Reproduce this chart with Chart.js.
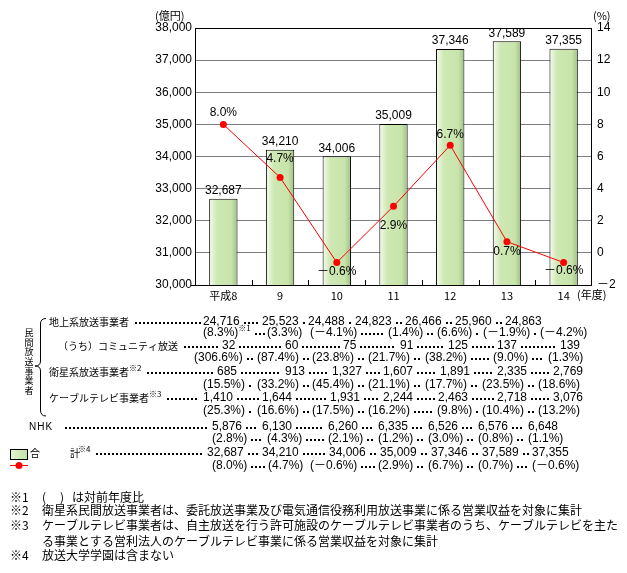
<!DOCTYPE html>
<html><head><meta charset="utf-8">
<script src="https://cdn.jsdelivr.net/npm/chart.js@4"></script>
<style>html,body{margin:0;padding:0;background:#fff;}#wrap{position:relative;width:627px;height:573px;}</style>
</head><body><div id="wrap"><canvas id="c" width="627" height="573"></canvas></div>
<script>
// ---- data ----
const years = ['平成8','9','10','11','12','13','14'];
const totalRevenue = [32687,34210,34006,35009,37346,37589,37355];
const growthRate = [8.0,4.7,-0.6,2.9,6.7,0.7,-0.6];
const terrestrial = [24716,25523,24488,24823,26466,25960,24863];
const terrestrialRate = [8.3,3.3,-4.1,1.4,6.6,-1.9,-4.2];
const community = [32,60,75,91,125,137,139];
const communityRate = [306.6,87.4,23.8,21.7,38.2,9.0,1.3];
const satellite = [685,913,1327,1607,1891,2335,2769];
const satelliteRate = [15.5,33.2,45.4,21.1,17.7,23.5,18.6];
const cable = [1410,1644,1931,2244,2463,2718,3076];
const cableRate = [25.3,16.6,17.5,16.2,9.8,10.4,13.2];
const nhk = [5876,6130,6260,6335,6526,6576,6648];
const nhkRate = [2.8,4.3,2.1,1.2,3.0,0.8,1.1];
const leftTicks = {min:30000, max:38000, step:1000};
const rightTicks = {min:-2, max:14, step:2};

const tableRows = [
  {label:'地上系放送事業者', note:'', vals:terrestrial, rates:terrestrialRate},
  {label:'（うち）コミュニティ放送', note:'', vals:community, rates:communityRate},
  {label:'衛星系放送事業者', note:'※2', vals:satellite, rates:satelliteRate},
  {label:'ケーブルテレビ事業者', note:'※3', vals:cable, rates:cableRate},
  {label:'NHK', note:'', vals:nhk, rates:nhkRate},
  {label:'合', note:'', vals:totalRevenue, rates:growthRate}
];
const footnotes = [
  ['※1', null],
  ['※2', '衛星系民間放送事業者は、委託放送事業及び電気通信役務利用放送事業に係る営業収益を対象に集計'],
  ['※3', 'ケーブルテレビ事業者は、自主放送を行う許可施設のケーブルテレビ事業者のうち、ケーブルテレビを主た'],
  ['', 'る事業とする営利法人のケーブルテレビ事業に係る営業収益を対象に集計'],
  ['※4', '放送大学学園は含まない']
];

// ---- layout (positions only) ----
const W = 627, H = 573;
const plotL = 195, plotR = 592, plotT = 28, plotB = 285;
const valueX = [[203,262,308,355,405,455,505],[222,285,343,400,448,497,560],[217,285,332,383,440,497,553],[203,262,330,383,438,497,553],[212,262,328,378,428,478,528],[207,262,329,380,431,482,532]];
const rateX  = [[203,267,310,388,437,483,540],[194,257,312,368,425,493,548],[203,257,312,368,425,482,538],[203,257,312,368,437,482,538],[212,267,328,378,428,478,528],[212,268,310,378,428,478,532]];
const valueY = [322,346,372,398,427,453];
const rateY  = [333,358,385,411,439,466];
const labelX = [49,58,49,49,29,30];
const footY = [497,510,525,541,555];
const pctLabelDy = [-12,-19,9,19,-11,10,8];

const LAT = '"Liberation Sans", "Noto Sans CJK JP", sans-serif';
const CJK = '"Noto Sans CJK JP", "Liberation Sans", sans-serif';

const fmtN = v => v.toLocaleString('en-US');
const fmtP = v => (v < 0 ? '－' : '') + Math.abs(v).toFixed(1) + '%';

function barFill(c) {
  const chart = c.chart, xs = chart.scales.x;
  if (!xs || !chart.chartArea) return '#cce8b0';
  const x = xs.getPixelForValue(c.dataIndex);
  const w = xs.width / years.length * 0.5;
  const g = chart.ctx.createLinearGradient(x - w/2, 0, x + w/2, 0);
  g.addColorStop(0, '#f6fbf0');
  g.addColorStop(0.28, '#cde8b2');
  g.addColorStop(0.78, '#c8e4ab');
  g.addColorStop(1, '#9fbf86');
  return g;
}

const decor = {
  id: 'decor',
  afterDatasetsDraw(chart) {
    const ctx = chart.ctx, a = chart.chartArea, xs = chart.scales.x;
    ctx.save();
    ctx.strokeStyle = '#000'; ctx.lineWidth = 1;
    ctx.strokeRect(a.left + 0.5, a.top + 0.5, a.right - a.left - 1, a.bottom - a.top);
    ctx.beginPath();
    for (let i = 1; i < years.length; i++) {
      const x = Math.round((xs.getPixelForValue(i - 1) + xs.getPixelForValue(i)) / 2) + 0.5;
      ctx.moveTo(x, a.bottom); ctx.lineTo(x, a.bottom - 5);
    }
    ctx.moveTo(a.left - 4, a.bottom + 0.5); ctx.lineTo(a.left, a.bottom + 0.5);
    ctx.stroke();
    ctx.fillStyle = '#000';
    ctx.font = '12px ' + LAT;
    ctx.textAlign = 'center'; ctx.textBaseline = 'bottom';
    chart.getDatasetMeta(1).data.forEach((el, i) => ctx.fillText(fmtN(totalRevenue[i]), el.x, el.y - 2));
    ctx.textBaseline = 'middle';
    chart.getDatasetMeta(0).data.forEach((el, i) => ctx.fillText(fmtP(growthRate[i]), el.x, el.y + pctLabelDy[i]));
    ctx.restore();
  },
  afterDraw(chart) {
    const ctx = chart.ctx;
    ctx.save();
    ctx.fillStyle = '#000'; ctx.strokeStyle = '#000';
    ctx.textBaseline = 'middle'; ctx.textAlign = 'left';
    ctx.font = '11px ' + CJK;
    ctx.fillText('(億円)', 155, 16);
    ctx.fillText('(%)', 593, 16);
    ctx.fillText('(年度)', 577, 295);

    const dots = (x0, x1, y) => { for (let x = x0; x <= x1 - 2; x += 4) ctx.fillRect(Math.round(x), y, 2, 2); };
    ctx.font = '9px ' + CJK; ctx.textAlign = 'center';
    const vt = '民間放送事業者';
    for (let i = 0; i < vt.length; i++) ctx.fillText(vt[i], 29, 332.5 + i * 9.7);
    ctx.lineWidth = 1;
    ctx.beginPath();
    ctx.moveTo(46, 318.5); ctx.quadraticCurveTo(40.5, 318.5, 40.5, 324);
    ctx.lineTo(40.5, 361); ctx.quadraticCurveTo(40.5, 366, 35, 366);
    ctx.quadraticCurveTo(40.5, 366, 40.5, 371);
    ctx.lineTo(40.5, 410); ctx.quadraticCurveTo(40.5, 416, 46, 416);
    ctx.stroke();

    ctx.textAlign = 'left';
    tableRows.forEach((r, ri) => {
      const y = valueY[ri], yr = rateY[ri];
      ctx.font = '10px ' + CJK;
      let end;
      if (ri === 5) {
        ctx.fillText('合', labelX[ri], y);
        ctx.fillText('計', 70, y);
        ctx.font = '8px ' + CJK;
        ctx.fillText('※4', 78, y - 4);
        end = 78 + ctx.measureText('※4').width;
      } else if (ri === 4) {
        ctx.font = '10px ' + LAT;
        ctx.letterSpacing = '1px';
        ctx.fillText(r.label, labelX[ri], y);
        end = labelX[ri] + ctx.measureText(r.label).width + 6;
        ctx.letterSpacing = '0px';
      } else {
        ctx.fillText(r.label, labelX[ri], y);
        end = labelX[ri] + ctx.measureText(r.label).width;
        if (r.note) {
          ctx.font = '8px ' + CJK;
          ctx.fillText(r.note, end, y - 4);
          end += ctx.measureText(r.note).width;
        }
      }
      end += 4;
      ctx.font = '12px ' + LAT;
      r.vals.forEach((v, i) => {
        const s = fmtN(v), x = valueX[ri][i];
        if (x - end > 5) dots(end + 2, x - 2, y);
        ctx.fillText(s, x, y);
        end = x + ctx.measureText(s).width + 2;
      });
      end = null;
      r.rates.forEach((v, i) => {
        const s = '(' + fmtP(v) + ')', x = rateX[ri][i];
        ctx.font = '12px ' + LAT;
        if (end !== null && x - end > 5) dots(end + 2, x - 2, yr);
        ctx.fillText(s, x, yr);
        end = x + ctx.measureText(s).width + 2;
        if (ri === 0 && i === 0) {
          ctx.font = '8px ' + CJK;
          ctx.fillText('※1', end - 2, yr - 5);
          end += ctx.measureText('※1').width;
        }
      });
    });

    const g = ctx.createLinearGradient(10, 0, 27, 0);
    g.addColorStop(0, '#e4f3d6'); g.addColorStop(1, '#c4e2a6');
    ctx.fillStyle = g; ctx.fillRect(10, 449, 17, 10);
    ctx.strokeStyle = '#000'; ctx.strokeRect(10.5, 449.5, 17, 10);
    ctx.strokeStyle = '#ff0000'; ctx.beginPath(); ctx.moveTo(10, 465.5); ctx.lineTo(28, 465.5); ctx.stroke();
    ctx.fillStyle = '#ff0000'; ctx.beginPath(); ctx.arc(19, 465.5, 3.5, 0, Math.PI * 2); ctx.fill();

    ctx.fillStyle = '#000';
    ctx.font = '12px ' + CJK;
    footnotes.forEach((f, i) => {
      const y = footY[i];
      if (f[0]) ctx.fillText(f[0], 10, y);
      if (f[1]) ctx.fillText(f[1], 42, y);
      else { ctx.fillText('(', 42, y); ctx.fillText(')', 60, y); ctx.fillText('は対前年度比', 72, y); }
    });
    ctx.restore();
  }
};

new Chart(document.getElementById('c'), {
  type: 'bar',
  data: {
    labels: years,
    datasets: [
      {type:'line', label:'対前年度比', data:growthRate, yAxisID:'y1', order:0,
       borderColor:'#ff0000', borderWidth:1, pointRadius:3.5, pointBackgroundColor:'#ff0000',
       pointBorderWidth:0, tension:0, fill:false},
      {type:'bar', label:'合計', data:totalRevenue, yAxisID:'y', order:1,
       backgroundColor:barFill, borderColor:'#000', borderWidth:1, borderSkipped:'bottom',
       barPercentage:0.5, categoryPercentage:1}
    ]
  },
  options: {
    responsive:false, animation:false, devicePixelRatio:1,
    layout:{padding:{top:plotT, left:0, right:0, bottom:0}},
    plugins:{legend:{display:false}, tooltip:{enabled:false}},
    scales:{
      x:{grid:{display:false, drawTicks:false}, border:{display:false},
         ticks:{color:'#000', font:{size:11, family:CJK}, padding:4, maxRotation:0, autoSkip:false},
         afterFit(s){ s.height = H - plotB; }},
      y:{position:'left', min:leftTicks.min, max:leftTicks.max,
         grid:{color:'#808080', drawTicks:false}, border:{display:false},
         ticks:{stepSize:leftTicks.step, color:'#000', font:{size:12, family:LAT}, padding:3,
                callback:v => fmtN(v)},
         afterFit(s){ s.width = plotL; }},
      y1:{position:'right', min:rightTicks.min, max:rightTicks.max,
          grid:{display:false, drawTicks:false}, border:{display:false},
          ticks:{stepSize:rightTicks.step, color:'#000', font:{size:12, family:LAT}, padding:5,
                 callback:v => v < 0 ? '－' + Math.abs(v) : String(v)},
          afterFit(s){ s.width = W - plotR; }}
    }
  },
  plugins:[decor]
});
</script></body></html>
